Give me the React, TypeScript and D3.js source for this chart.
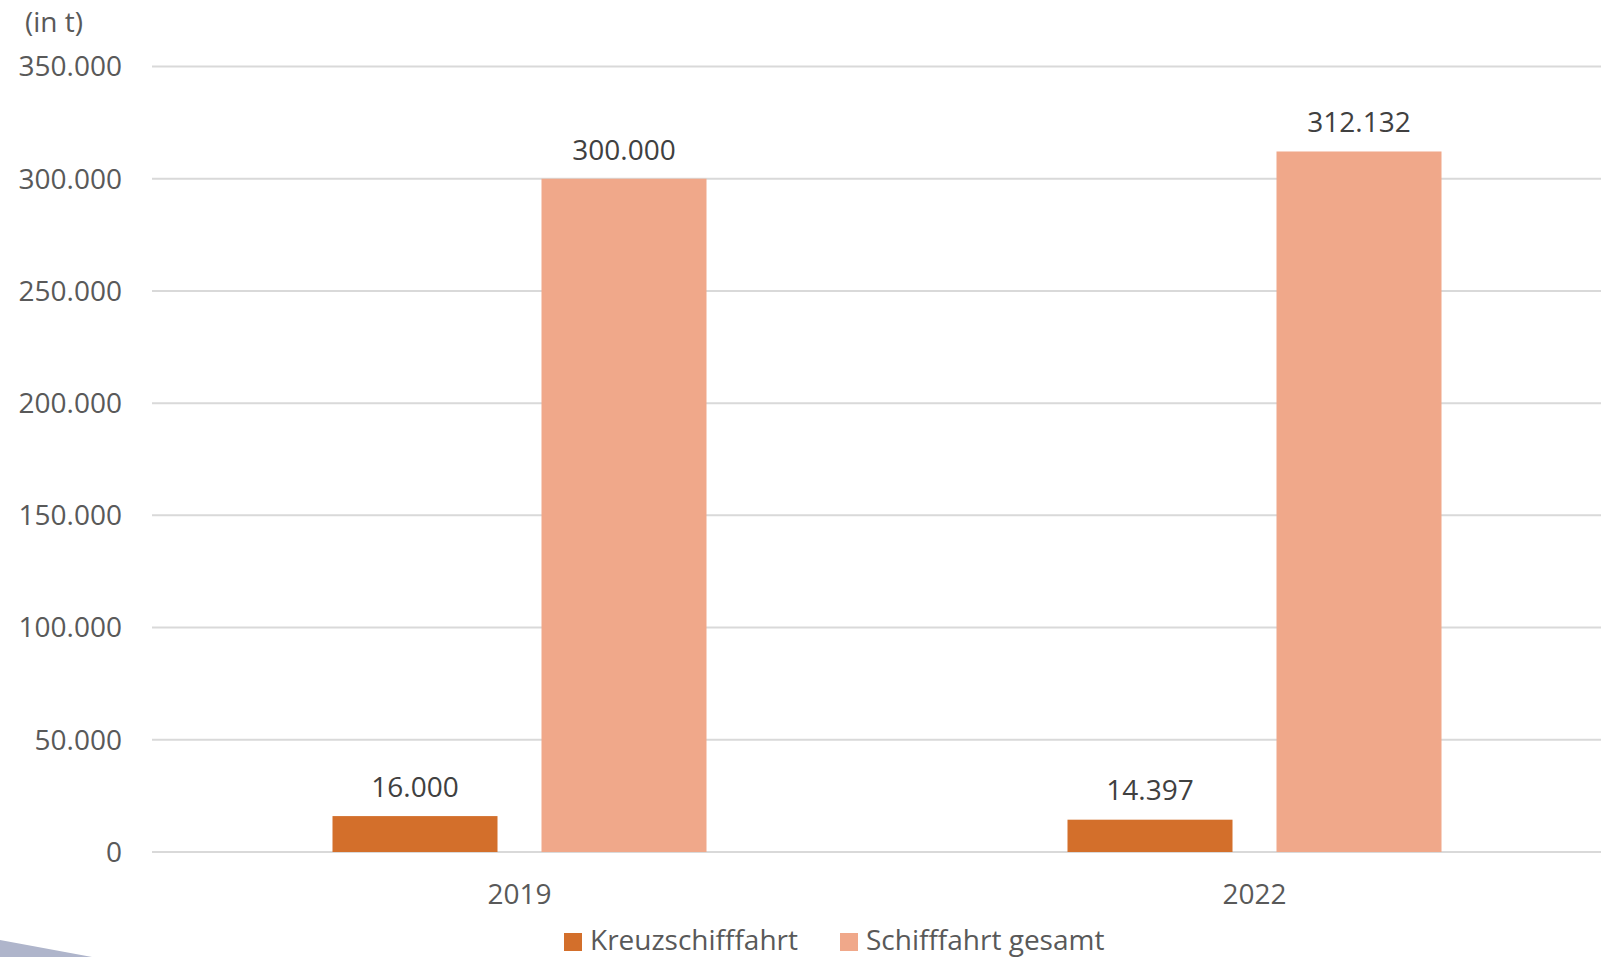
import React from "react";
import * as d3 from "d3";

const categories = ["2019", "2022"];
const seriesNames = ["Kreuzschifffahrt", "Schifffahrt gesamt"];
const kreuzValues = [16000, 14397];
const gesamtValues = [300000, 312132];
const yTicks = [0, 50000, 100000, 150000, 200000, 250000, 300000, 350000];
const unitLabel = "(in t)";

const colors = ["#D36F2B", "#F0A88A"];
const W = 1601;
const H = 957;
const FONT = "'Open Sans', 'Noto Sans', sans-serif";
const FS = 28;

const fmt = (v: number) =>
  v === 0 ? "0" : d3.format(",")(v).replace(/,/g, ".");

export default function App() {
  const y = d3.scaleLinear().domain([0, 350000]).range([852, 66.5]);
  const x0 = d3.scaleBand<string>().domain(categories).range([152, 1622]).padding(0);
  const x1 = d3
    .scaleBand<string>()
    .domain(seriesNames)
    .range([0, x0.bandwidth()])
    .paddingInner(0.2105)
    .paddingOuter(0.8636);
  const seriesValues = [kreuzValues, gesamtValues];
  const legendX = [564, 840];

  return (
    <div style={{ position: "fixed", left: 0, top: 0 }}>
      <svg width={W} height={H} style={{ display: "block", background: "#fff" }}>
        <path d="M0,940 L92,957 L0,957 Z" fill="#AFB5CB" />
        <text x={25} y={32} fontFamily={FONT} fontSize={FS} fill="#595959">
          {unitLabel}
        </text>
        {yTicks.map((t) => (
          <g key={t}>
            <line x1={152} x2={W} y1={y(t)} y2={y(t)} stroke="#D9D9D9" strokeWidth={2} />
            <text
              x={122}
              y={y(t)}
              dy="0.35em"
              textAnchor="end"
              fontFamily={FONT}
              fontSize={FS}
              fill="#595959"
            >
              {fmt(t)}
            </text>
          </g>
        ))}
        {categories.map((c, ci) => (
          <g key={c} transform={`translate(${x0(c)},0)`}>
            {seriesNames.map((s, si) => {
              const v = seriesValues[si][ci];
              const bx = x1(s) as number;
              return (
                <g key={s}>
                  <rect
                    x={bx}
                    y={y(v)}
                    width={x1.bandwidth()}
                    height={y(0) - y(v)}
                    fill={colors[si]}
                  />
                  <text
                    x={bx + x1.bandwidth() / 2}
                    y={y(v) - 29}
                    dy="0.35em"
                    textAnchor="middle"
                    fontFamily={FONT}
                    fontSize={FS}
                    fill="#404040"
                  >
                    {fmt(v)}
                  </text>
                </g>
              );
            })}
            <text
              x={x0.bandwidth() / 2}
              y={904}
              textAnchor="middle"
              fontFamily={FONT}
              fontSize={FS}
              fill="#595959"
            >
              {c}
            </text>
          </g>
        ))}
        {seriesNames.map((s, i) => {
          const lx = legendX[i];
          return (
            <g key={s}>
              <rect x={lx} y={933} width={18} height={18} fill={colors[i]} />
              <text x={lx + 26} y={950} fontFamily={FONT} fontSize={FS} fill="#595959">
                {s}
              </text>
            </g>
          );
        })}
      </svg>
    </div>
  );
}
